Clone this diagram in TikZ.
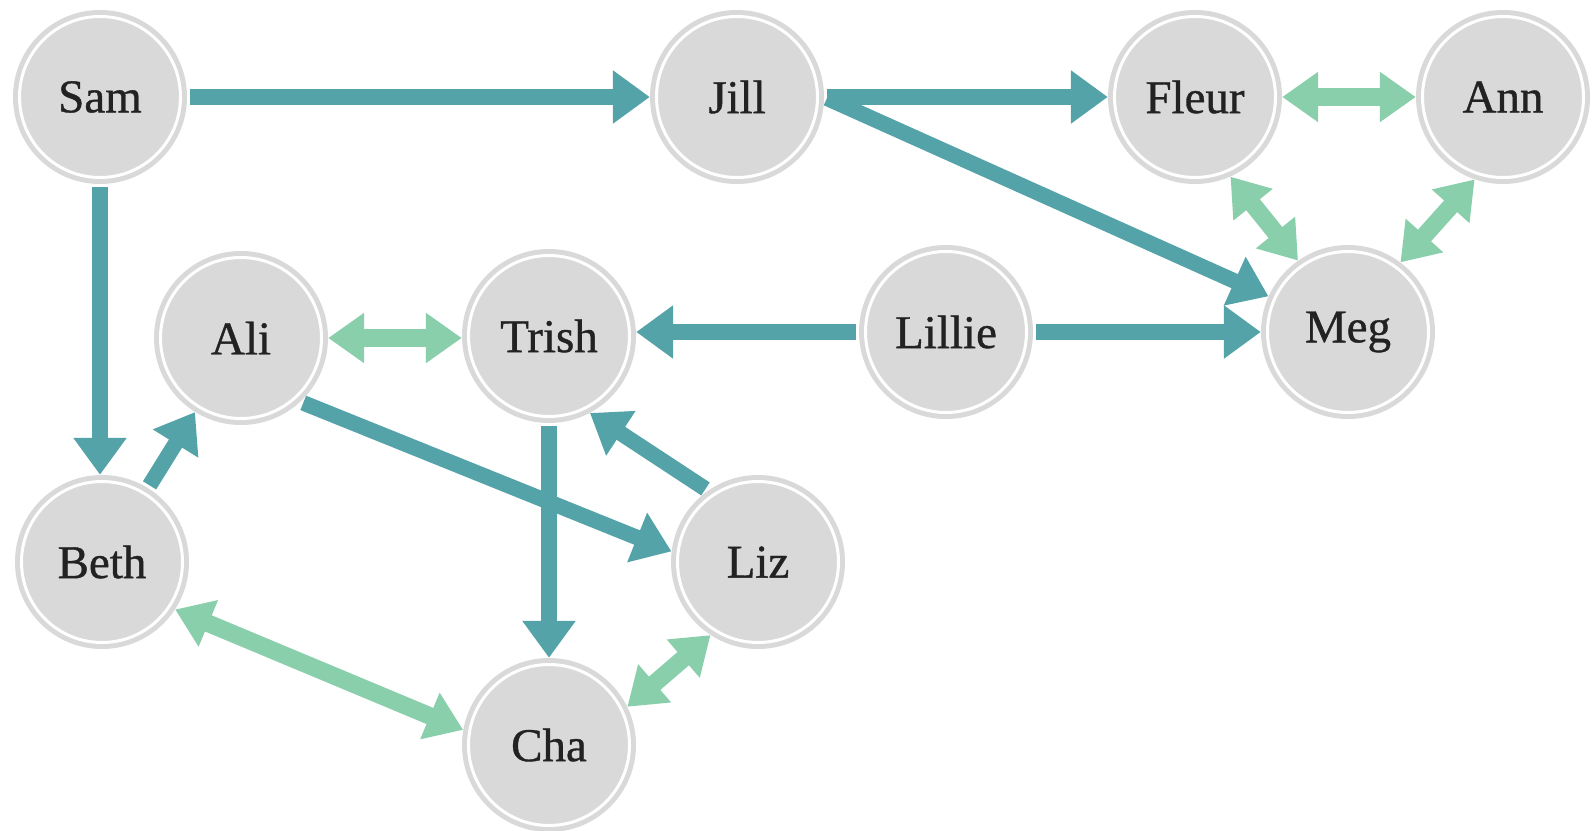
\documentclass[tikz,border=0pt]{standalone}
\usepackage{fontspec}
\setmainfont{Liberation Serif}
\newfontfamily\namefont{Liberation Serif}[FakeBold=0.8]
\usetikzlibrary{arrows.meta}
\definecolor{teal1}{HTML}{54A3A8}
\definecolor{mint}{HTML}{8ACFAC}
\definecolor{disc}{HTML}{D9D9D9}
\definecolor{ink}{HTML}{222222}
\begin{document}
\begin{tikzpicture}[x=1pt,y=-1pt,
 person/.style={circle, fill=disc, minimum size=174pt, inner sep=0pt, text=ink,
   font=\namefont\fontsize{47}{49}\selectfont,
   path picture={\draw[white,line width=3pt] (path picture bounding box.center) circle[radius=80.5pt];}},
 dir/.style={draw=teal1, line width=15.5pt, -{Triangle[width=51pt,length=37pt]}, shorten <=3pt},
 bi/.style={draw=mint, line width=17.5pt, {Triangle[width=48pt,length=36pt]}-{Triangle[width=48pt,length=36pt]}}
]
\useasboundingbox (0,0) rectangle (1595,830);
\fill[white] (0,0) rectangle (1595,830);

\node[person] (Sam)    at (100,97)  {Sam};
\node[person] (Jill)   at (737,97)  {Jill};
\node[person] (Fleur)  at (1195,97) {Fleur};
\node[person] (Ann)    at (1503,97) {Ann};
\node[person] (Ali)    at (241,338) {Ali};
\node[person] (Trish)  at (549,336) {Trish};
\node[person] (Lillie) at (946,332) {Lillie};
\node[person] (Meg)    at (1348,332) {Meg};
\node[person] (Beth)   at (102,562) {Beth};
\node[person] (Liz)    at (758,562) {Liz};
\node[person] (Cha)    at (549,745) {Cha};

% directed
\draw[dir] (Sam) -- (Jill);
\draw[dir] (Sam) -- (Sam |- Beth.north);
\draw[dir] (Jill.east) -- (Fleur.west |- Jill.east);
\draw[dir] (Jill.east) -- (Meg);
\draw[dir] (Lillie.west) -- (Trish.east |- Lillie.west);
\draw[dir] (Lillie) -- (Meg);
\draw[dir] (Beth) -- (Ali);
\draw[dir] (Ali.-47) -- (Liz.173);
\draw[dir] (Trish) -- (Cha);
\draw[dir] (Liz.125) -- (Trish.-62);

% bidirectional
\draw[bi] (Fleur) -- (Ann);
\draw[bi] (Fleur.294) -- (Meg.125);
\draw[bi] (Ann.251) -- (Meg.53);
\draw[bi] (Ali.east) -- (Trish.west |- Ali.east);
\draw[bi] (Beth.-33) -- (Cha.170);
\draw[bi] (Liz.237) -- (Cha.26);
\end{tikzpicture}
\end{document}
